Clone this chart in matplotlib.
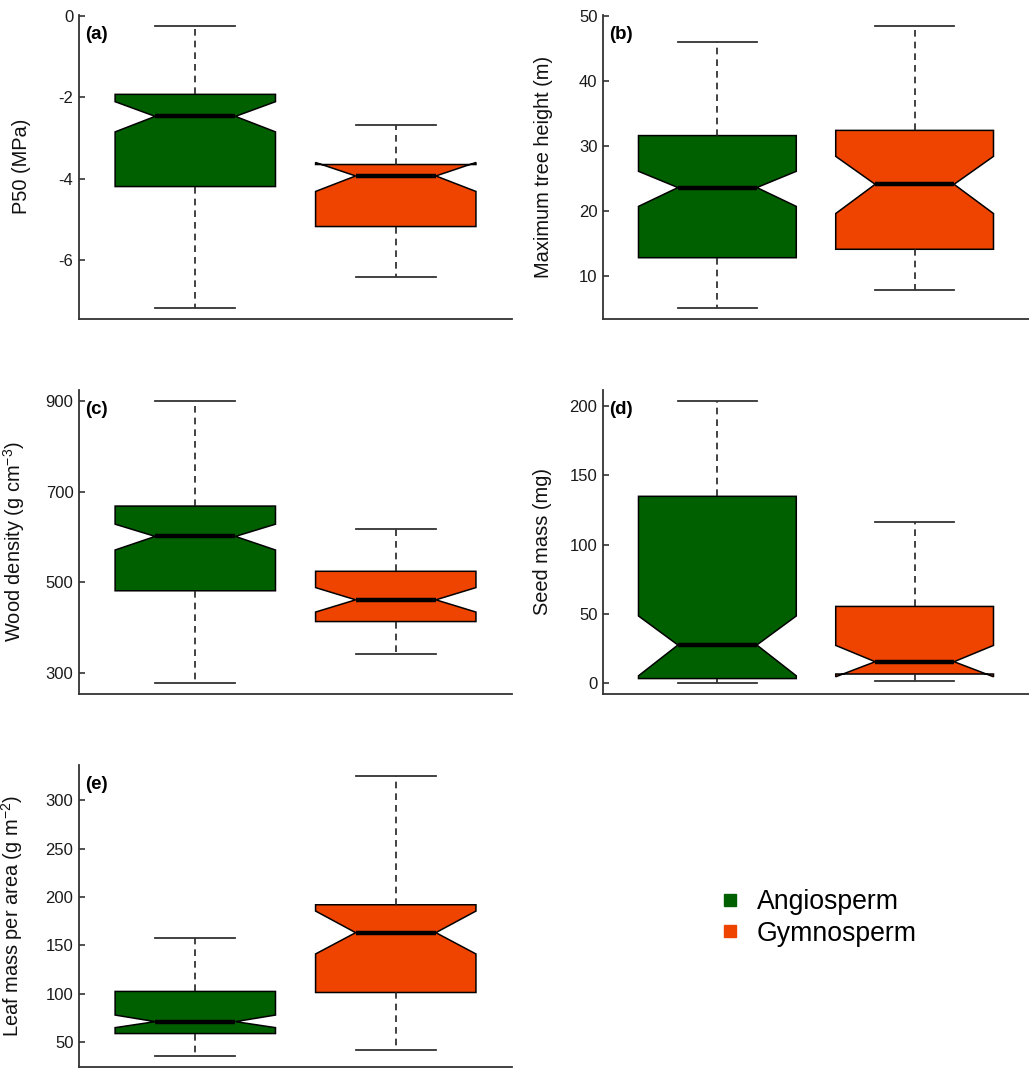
# Notched box plots: angiosperm vs gymnosperm traits
import matplotlib
matplotlib.use('Agg')
import matplotlib.pyplot as plt
from matplotlib.lines import Line2D

plt.rcParams['font.family'] = ['Liberation Sans', 'DejaVu Sans']
plt.rcParams['axes.unicode_minus'] = False
plt.rcParams['mathtext.fontset'] = 'custom'
plt.rcParams['mathtext.rm'] = 'Liberation Sans'
plt.rcParams['mathtext.default'] = 'regular'

groups = ['Angiosperm', 'Gymnosperm']
colors = ['#006000', '#EE4400']
panel_tags = ['(a)', '(b)', '(c)', '(d)', '(e)']
ylabels = ['P50 (MPa)', 'Maximum tree height (m)', r'Wood density (g cm$^{-3}$)',
           'Seed mass (mg)', r'Leaf mass per area (g m$^{-2}$)']
yticks = [[0, -2, -4, -6], [10, 20, 30, 40, 50], [300, 500, 700, 900],
          [0, 50, 100, 150, 200], [50, 100, 150, 200, 250, 300]]

# summary stats: [angiosperm, gymnosperm]
whislo = [[-7.16, -6.40], [5.1, 7.8], [278, 341], [0.0, 1.0], [36.3, 42.5]]
q1 = [[-4.19, -5.17], [12.8, 14.1], [481, 413], [3.0, 6.3], [59.0, 101.4]]
cilo = [[-2.85, -4.31], [20.7, 19.6], [571, 434], [5.0, 4.3], [65.1, 141.2]]
med = [[-2.47, -3.93], [23.6, 24.1], [601, 461], [27.3, 15.2], [71.3, 163.2]]
cihi = [[-2.11, -3.60], [26.1, 28.4], [628, 488], [48.3, 27.0], [78.1, 185.5]]
q3 = [[-1.93, -3.65], [31.6, 32.4], [668, 524], [134.9, 55.2], [102.5, 192.0]]
whishi = [[-0.25, -2.68], [46.0, 48.5], [900, 617], [203.9, 116.5], [157.3, 325.0]]

# axes boxes in figure fraction [left, bottom, width, height]
positions = [[0.0768, 0.7013, 0.4208, 0.2851],
             [0.5860, 0.7013, 0.4140, 0.2851],
             [0.0768, 0.3502, 0.4208, 0.2849],
             [0.5860, 0.3502, 0.4140, 0.2849],
             [0.0768, 0.0012, 0.4208, 0.2827]]
label_x = [-0.111, -0.117, -0.120, -0.119, -0.125]

fig = plt.figure(figsize=(10.29, 10.68), dpi=100)

for i in range(5):
    ax = fig.add_axes(positions[i])
    stats = []
    for j in range(2):
        stats.append({'med': med[i][j], 'q1': q1[i][j], 'q3': q3[i][j],
                      'whislo': whislo[i][j], 'whishi': whishi[i][j],
                      'cilo': cilo[i][j], 'cihi': cihi[i][j], 'fliers': []})
    bp = ax.bxp(stats, positions=[1, 2], widths=0.8, shownotches=True,
                patch_artist=True, showfliers=False,
                boxprops=dict(edgecolor='black', linewidth=1.1),
                medianprops=dict(color='black', linewidth=3.2, solid_capstyle='butt'),
                whiskerprops=dict(color='#222222', linewidth=1.2, linestyle=(0, (4, 3))),
                capprops=dict(color='#333333', linewidth=1.3))
    for patch, c in zip(bp['boxes'], colors):
        patch.set_facecolor(c)

    lo = min(whislo[i])
    hi = max(whishi[i])
    pad = (hi - lo) * 0.04
    ax.set_ylim(lo - pad, hi + pad)
    ax.set_xlim(0.42, 2.58)
    ax.set_yticks(yticks[i])
    ax.set_xticks([])
    ax.tick_params(axis='y', direction='in', length=4, width=1.2,
                   labelsize=12, colors='#333333', labelcolor='#1a1a1a', pad=4)
    ax.spines['top'].set_visible(False)
    ax.spines['right'].set_visible(False)
    for s in ['left', 'bottom']:
        ax.spines[s].set_color('#333333')
        ax.spines[s].set_linewidth(1.3)
    ax.set_ylabel(ylabels[i], fontsize=14.4, color='#111111')
    ax.yaxis.set_label_coords(label_x[i], 0.5)
    ax.text(0.015, 0.935, panel_tags[i], transform=ax.transAxes,
            fontsize=13.5, fontweight='bold', va='center', ha='left')

# legend in the empty slot
handles = [Line2D([], [], linestyle='none', marker='s', markersize=8.5,
                  markerfacecolor=c, markeredgecolor=c) for c in colors]
fig.legend(handles, groups, loc='center left', bbox_to_anchor=(0.6965, 0.1405),
           frameon=False, fontsize=19.2, handlelength=1.0, handletextpad=0.51,
           borderpad=0, borderaxespad=0, labelspacing=0.2)

fig.savefig('out.png', dpi=100)
